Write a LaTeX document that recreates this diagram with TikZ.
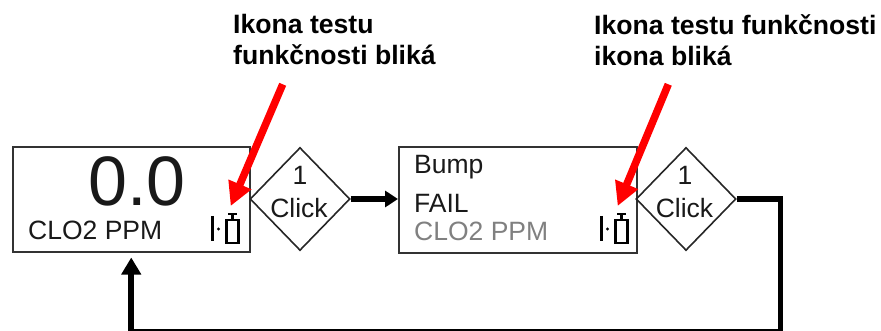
\documentclass[tikz,border=0pt]{standalone}
\usepackage{fontspec}
\setmainfont{Liberation Sans}
\usetikzlibrary{shapes.geometric,arrows.meta}
\tikzset{
  x=1pt,y=-1pt,
  panel/.style = {draw=black!80,line width=2pt,minimum width=237.5pt,minimum height=105.5pt,inner sep=0pt,anchor=north west},
  clickbox/.style = {diamond,draw=black!85,line width=1.6pt,minimum width=100pt,minimum height=103pt,inner sep=0pt},
  flow/.style = {line width=5.8pt,-{Triangle[length=13pt,width=16pt]}},
  pointer/.style = {red,line width=7.5pt,-{Triangle[length=23.5pt,width=23.5pt]}},
  note/.style = {font=\fontsize{26.6}{31}\selectfont\bfseries,align=left,anchor=north west,inner sep=0pt},
  lcd/.style = {font=\fontsize{26.5}{30}\selectfont,text=black!90,inner sep=0pt,anchor=base west},
  icon/.style = {black,line width=2.5pt}
}
\newcommand{\bumpicon}[2]{
  \draw[icon,line width=3pt] (#1-20.5,#2-13) -- ++(0,25);
  \fill[black] (#1-14,#2) circle (1.6pt);
  \draw[icon] (#1-6,#2-9) rectangle (#1+6,#2+14);
  \draw[icon] (#1,#2-9) -- ++(0,-6);
  \draw[icon] (#1-4.5,#2-15) -- ++(9,0);
}
\begin{document}
\begin{tikzpicture}
  \useasboundingbox (0,0) rectangle (881,331);
  \pgfmathsetmacro{\ymid}{199}    % y of connectors
  % boxes
  \node[panel] (zero) at (11.5,146) {};
  \node[panel] (bump) at (398,146.5) {};
  % diamonds
  \node[clickbox] (clickA) at (300,199) {};
  \node[clickbox] (clickB) at (686,199) {};
  % text of the boxes
  \node[font=\fontsize{70}{70}\selectfont,text=black!90,inner sep=0pt,anchor=base] (reading) at (137,206) {0.0};
  \node[lcd] (unitA) at (28,240) {CLO2 PPM};
  \node[lcd] (bumptext) at (414,174) {Bump};
  \node[lcd] (fail) at (414,213) {FAIL};
  \node[lcd,text=black!50] (unitB) at (414,240.5) {CLO2 PPM};
  % text of the diamonds
  \node[lcd,anchor=base] (oneA) at (300,185) {1};
  \node[lcd,anchor=base] (wordA) at (299,218) {Click};
  \node[lcd,anchor=base] (oneB) at (685,185) {1};
  \node[lcd,anchor=base] (wordB) at (684.5,218) {Click};
  % icons
  \bumpicon{232.5}{229}
  \bumpicon{621.5}{229}
  % connectors
  \coordinate (corner) at (780.5,\ymid);
  \coordinate (low) at (780.5,331.5);
  \draw[flow] (clickA.east) -- (bump.west |- clickA.east);
  \draw[flow,-{Triangle[length=17pt,width=19pt]}] (clickB.east) -- (corner) -- (low) -| ([yshift=-4pt]zero.south);
  % notes
  \node[note] (noteA) at (233,14) {Ikona testu\\funkčnosti bliká};
  \node[note] (noteB) at (594,14) {Ikona testu funkčnosti\\ikona bliká};
  % red arrows
  \coordinate (tailA) at (282.7,84.3);
  \coordinate (tipA) at (230.7,206);
  \coordinate (tailB) at (668.3,84.3);
  \coordinate (tipB) at (617.7,206);
  \draw[pointer] (tailA) -- (tipA);
  \draw[pointer] (tailB) -- (tipB);
\end{tikzpicture}
\end{document}
